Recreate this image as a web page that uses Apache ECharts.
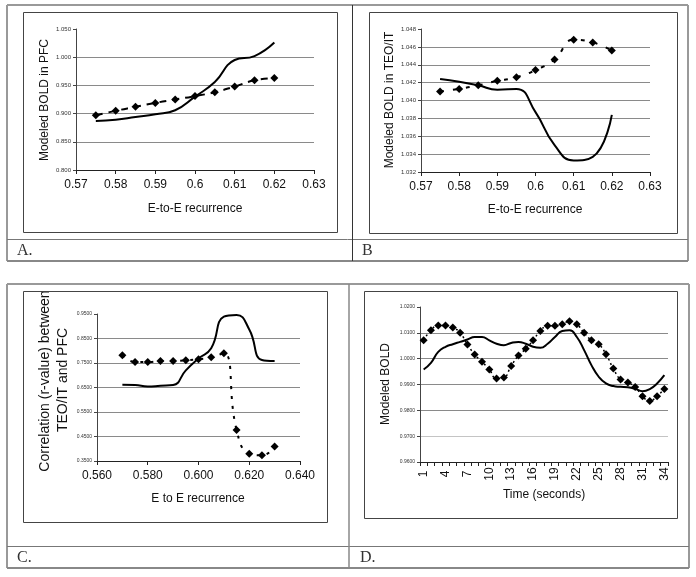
<!DOCTYPE html>
<html><head><meta charset="utf-8">
<script src="https://cdn.jsdelivr.net/npm/echarts@6/dist/echarts.min.js"></script>
<style>html,body{margin:0;padding:0;background:#fff}#c{width:696px;height:577px}</style>
</head><body><div id="c"></div>
<script>
// ---- Data ----
const recurrenceAB = [0.575,0.58,0.585,0.59,0.595,0.6,0.605,0.61,0.615,0.62];
const pfcSolid   = [0.887,0.889,0.894,0.899,0.906,0.930,0.956,0.995,1.002,1.026];
const pfcDashed  = [0.897,0.905,0.912,0.919,0.925,0.931,0.938,0.948,0.959,0.963];
const teoSolid   = [1.0424,1.0421,1.0417,1.0412,1.0413,1.0387,1.0350,1.0333,1.0337,1.0384];
const teoDotted  = [1.0410,1.0413,1.0417,1.0422,1.0426,1.0434,1.0446,1.0468,1.0465,1.0456];
const recurrenceC = [0.570,0.575,0.580,0.585,0.590,0.595,0.600,0.605,0.610,0.615,0.620,0.625,0.630];
const corrSolid  = [0.661,0.660,0.654,0.657,0.660,0.720,0.768,0.810,0.939,0.946,0.887,0.762,0.758];
const corrDotted = [0.782,0.754,0.754,0.758,0.758,0.761,0.765,0.773,0.790,0.477,0.380,0.373,0.409];
const times = ['1','2','3','4','5','6','7','8','9','10','11','12','13','14','15','16','17','18','19','20','21','22','23','24','25','26','27','28','29','30','31','32','33','34'];
const boldSolid  = [0.9958,0.9984,1.0026,1.0046,1.0056,1.0065,1.0074,1.0084,1.0084,1.0071,1.0058,1.0052,1.0061,1.0065,1.0058,1.0046,1.0042,1.0058,1.0084,1.0107,1.0110,1.0084,1.0033,0.9975,0.9930,0.9904,0.9894,0.9891,0.9889,0.9883,0.9874,0.9882,0.9904,0.9936];
const boldDotted = [1.0071,1.0110,1.0128,1.0128,1.0121,1.0100,1.0055,1.0016,0.9988,0.9958,0.9923,0.9927,0.9972,1.0012,1.0038,1.0071,1.0107,1.0127,1.0127,1.0133,1.0145,1.0133,1.0100,1.0071,1.0056,1.0017,0.9962,0.9919,0.9908,0.9890,0.9855,0.9836,0.9855,0.9883];

const SANS = '"Liberation Sans", Arial, sans-serif';
const SERIF = '"Liberation Serif", "Times New Roman", serif';
const pair = (xs, ys) => xs.map((x, i) => [x, ys[i]]);

function valX(grid, min, max, interval, dec) {
  return {
    type: 'value', gridIndex: grid, min, max, interval,
    axisLine: {lineStyle: {color: '#222', width: 1}},
    axisTick: {show: true, length: 4, lineStyle: {color: '#222'}},
    splitLine: {show: false},
    axisLabel: {margin: 9, fontSize: 12, fontFamily: SANS, color: '#111',
      formatter: v => dec ? v.toFixed(dec) : String(+v.toFixed(2))}
  };
}
function valY(grid, min, max, interval, dec, fs, colors) {
  return {
    type: 'value', gridIndex: grid, min, max, interval,
    axisLine: {show: true, lineStyle: {color: '#444', width: 1}},
    axisTick: {show: true, length: 3, lineStyle: {color: '#444'}},
    splitLine: {show: true, showMaxLine: false, lineStyle: {color: colors || '#8a8a8a', width: 1}},
    axisLabel: {margin: 5, fontSize: fs, fontFamily: SANS, color: '#333', formatter: v => v.toFixed(dec)}
  };
}
function solid(x, y, data) {
  return {type: 'line', xAxisIndex: x, yAxisIndex: y, data, smooth: true, symbol: 'none',
    lineStyle: {color: '#000', width: 2}, z: 3};
}
function marked(x, y, data, dash, w) {
  return {type: 'line', xAxisIndex: x, yAxisIndex: y, data, smooth: true, symbol: 'diamond', symbolSize: 8,
    showAllSymbol: true,
    itemStyle: {color: '#000'}, lineStyle: {color: '#000', width: w, type: dash}, z: 4};
}

const chart = echarts.init(document.getElementById('c'), null, {renderer: 'canvas'});

const line = (x1, y1, x2, y2, color, w) => ({type: 'line', shape: {x1, y1, x2, y2}, style: {stroke: color, lineWidth: w}, z: 10});
const box = (x, y, w, h) => ({type: 'rect', shape: {x: x + 0.5, y: y + 0.5, width: w, height: h}, style: {fill: 'none', stroke: '#444', lineWidth: 1}, z: 10});
const txt = (x, y, text, size, font, rot, z) => ({type: 'text', x, y, rotation: rot || 0, z: z || 5,
  style: {text, font: size + 'px ' + font, fill: '#111', textAlign: 'center', textVerticalAlign: 'middle', align: 'center', verticalAlign: 'middle'}});
const lbl = (x, y, text) => ({type: 'text', x, y, z: 10,
  style: {text, font: '16px ' + SERIF, fill: '#333', textAlign: 'left', textVerticalAlign: 'middle', align: 'left', verticalAlign: 'middle'}});

chart.setOption({
  animation: false,
  backgroundColor: '#fff',
  grid: [
    {left: 76, top: 29, width: 238, height: 141},
    {left: 421, top: 29, width: 229, height: 143},
    {left: 97, top: 314, width: 203, height: 147},
    {left: 420, top: 307, width: 248, height: 155}
  ],
  xAxis: [
    valX(0, 0.57, 0.63, 0.01, 0),
    valX(1, 0.57, 0.63, 0.01, 0),
    valX(2, 0.56, 0.64, 0.02, 3),
    {type: 'category', gridIndex: 3, data: times, boundaryGap: true,
      axisLine: {lineStyle: {color: '#222'}},
      axisTick: {show: true, interval: 0, length: 4, lineStyle: {color: '#222'}},
      axisLabel: {interval: 2, rotate: 90, align: 'center', verticalAlign: 'middle', margin: 12,
        fontSize: 12, fontFamily: SANS, color: '#111'}}
  ],
  yAxis: [
    valY(0, 0.8, 1.05, 0.05, 3, 6),
    valY(1, 1.032, 1.048, 0.002, 3, 6),
    valY(2, 0.35, 0.95, 0.1, 4, 5),
    valY(3, 0.96, 1.02, 0.01, 4, 5, ['#8a8a8a', '#c4c4c4', '#8a8a8a', '#8a8a8a', '#8a8a8a', '#8a8a8a', '#8a8a8a'])
  ],
  series: [
    solid(0, 0, pair(recurrenceAB, pfcSolid)),
    marked(0, 0, pair(recurrenceAB, pfcDashed), [7, 6], 2),
    solid(1, 1, pair(recurrenceAB, teoSolid)),
    marked(1, 1, pair(recurrenceAB, teoDotted), [4, 9], 2),
    solid(2, 2, pair(recurrenceC, corrSolid)),
    marked(2, 2, pair(recurrenceC, corrDotted), [3, 7], 2),
    solid(3, 3, boldSolid),
    marked(3, 3, boldDotted, [2, 3], 1.5)
  ],
  graphic: {elements: [
    // axis titles
    txt(45, 100, 'Modeled BOLD in PFC', 12, SANS, Math.PI / 2),
    txt(195, 209, 'E-to-E recurrence', 12, SANS),
    txt(390, 100, 'Modeled BOLD in TEO/IT', 12, SANS, Math.PI / 2),
    txt(535, 210, 'E-to-E recurrence', 12, SANS),
    txt(45, 381, 'Correlation (r-value) between', 14, SANS, Math.PI / 2),
    txt(63, 380, 'TEO/IT and PFC', 14, SANS, Math.PI / 2),
    txt(198, 499, 'E to E recurrence', 12, SANS),
    txt(386, 384, 'Modeled BOLD', 12, SANS, Math.PI / 2),
    txt(544, 495, 'Time (seconds)', 12, SANS),
    // cover for clipped title
    {type: 'rect', shape: {x: 30, y: 285, width: 45, height: 6}, style: {fill: '#fff'}, z: 8},
    // chart boxes
    box(23, 12, 314, 220), box(369, 12, 308, 221), box(23, 291, 304, 231), box(364, 291, 313, 227),
    // upper table
    line(7, 5, 688, 5, '#999', 2), line(7, 5, 7, 261, '#999', 2), line(688, 5, 688, 261, '#999', 2),
    line(7, 261, 688, 261, '#888', 2), line(7, 239.5, 688, 239.5, '#777', 1), line(352.5, 5, 352.5, 261, '#333', 1),
    // lower table
    line(7, 284, 689, 284, '#999', 2), line(7, 284, 7, 568, '#999', 2), line(689, 284, 689, 568, '#999', 2),
    line(7, 568, 689, 568, '#888', 2), line(7, 546.5, 689, 546.5, '#777', 1), line(349, 284, 349, 568, '#888', 1.5),
    // panel labels
    lbl(17, 251, 'A.'), lbl(362, 251, 'B'), lbl(17, 558, 'C.'), lbl(360, 558, 'D.')
  ]}
});
</script></body></html>
